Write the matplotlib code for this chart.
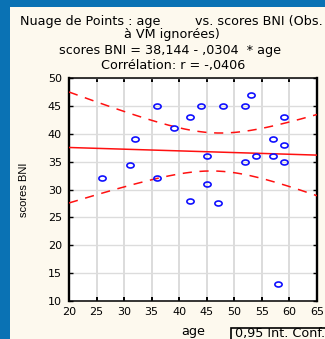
import numpy as np
import matplotlib
matplotlib.use("Agg")
import matplotlib.pyplot as plt
from matplotlib.patches import Rectangle
from matplotlib.path import Path
from matplotlib.transforms import Affine2D

# Observations (age, scores BNI), missing values removed
age = [26, 31, 32, 36, 36, 39, 42, 44, 45, 45, 42, 47, 48, 52, 53, 52, 54, 57, 57, 59, 59, 59, 58]
bni = [32, 34.4, 39, 45, 32, 41, 43, 45, 36, 31, 28, 27.5, 45, 45, 47, 35, 36, 39, 36, 38, 35, 43, 13]

# Fitted model as reported
intercept = 38.144
slope = -0.0304
r_text = "-,0406"

x_ticks = [20, 25, 30, 35, 40, 45, 50, 55, 60, 65]
y_ticks = [10, 15, 20, 25, 30, 35, 40, 45, 50]

W, H = 325, 339
plt.rcParams["font.family"] = ["DejaVu Sans"]
fig = plt.figure(figsize=(W / 100, H / 100), dpi=100)
fig.patch.set_facecolor("#0A72B4")

# cream panel
fig.patches.append(Rectangle((10 / W, 0), 1, 1 - 7 / H, transform=fig.transFigure,
                             facecolor="#FDF9EE", edgecolor="none", zorder=-5))

L, R, T, B = 69, 317, 78, 301
ax = fig.add_axes([L / W, 1 - B / H, (R - L) / W, (B - T) / H])
ax.set_zorder(2)
ax.set_facecolor("white")

xa = np.array(age, float)
ya = np.array(bni, float)
n = len(xa)
xs = np.linspace(20, 65, 200)
fit = intercept + slope * xs
resid = ya - (intercept + slope * xa)
s = np.sqrt(np.sum(resid ** 2) / (n - 2))
sxx = np.sum((xa - xa.mean()) ** 2)
t975 = 2.080  # Student t, 21 df
half = t975 * s * np.sqrt(1 / n + (xs - xa.mean()) ** 2 / sxx)

# wide open oval marker
oval = Path.unit_circle().transformed(Affine2D().scale(1.45, 1.0))

ax.plot(xs, fit, color="#FF1010", lw=1.1, zorder=3)
ax.plot(xs, fit + half, color="#FF1010", lw=1.1, ls=(0, (6, 5)), zorder=3)
ax.plot(xs, fit - half, color="#FF1010", lw=1.1, ls=(0, (6, 5)), zorder=3)
ax.plot(age, bni, ls="none", marker=oval, mfc="none", mec="#1010FF", mew=1.2,
        ms=5.2, zorder=4)

ax.set_xlim(20, 65)
ax.set_ylim(10, 50)
ax.set_xticks(x_ticks)
ax.set_yticks(y_ticks)
ax.xaxis.grid(True, color="#DCDCDC", lw=1.4)
ax.yaxis.grid(True, color="#DCDCDC", lw=1.0)
ax.set_axisbelow(True)
ax.tick_params(direction="in", length=3, top=True, right=True,
               labelsize=8, colors="black")
ax.tick_params(axis="x", width=1.4, pad=4)
ax.tick_params(axis="y", width=1.0, pad=5)
for side, sp in ax.spines.items():
    sp.set_linewidth(1.7 if side in ("left", "right") else 1.1)
    sp.set_color("black")

ax.set_ylabel("scores BNI", fontsize=8, family="Liberation Sans")
ax.yaxis.set_label_coords((29 - L) / (R - L), 0.5)

tf = 9.2
fig.text(20 / W, 1 - 22 / H, "Nuage de Points : age", fontsize=tf, ha="left", va="center")
fig.text(323 / W, 1 - 22 / H, "vs. scores BNI (Obs.", fontsize=tf, ha="right", va="center")
fig.text(172 / W, 1 - 34.5 / H, "à VM ignorées)", fontsize=tf, ha="center", va="center")
fig.text(170 / W, 1 - 50.5 / H, "scores BNI = 38,144 - ,0304  * age",
         fontsize=tf, ha="center", va="center")
fig.text(173 / W, 1 - 65.5 / H, "Corrélation: r = " + r_text,
         fontsize=tf, ha="center", va="center")
fig.text(193 / W, 1 - 331.5 / H, "age", fontsize=tf, ha="center", va="center")

# legend box
fig.patches.append(Rectangle((231 / W, 1 - 345 / H), 120 / W, 17 / H,
                             transform=fig.transFigure, facecolor="none",
                             edgecolor="black", lw=1.2, zorder=5))
fig.text(235 / W, 1 - 334 / H, "0,95 Int. Conf.", fontsize=tf, ha="left", va="center")

fig.savefig("out.png", dpi=100)
